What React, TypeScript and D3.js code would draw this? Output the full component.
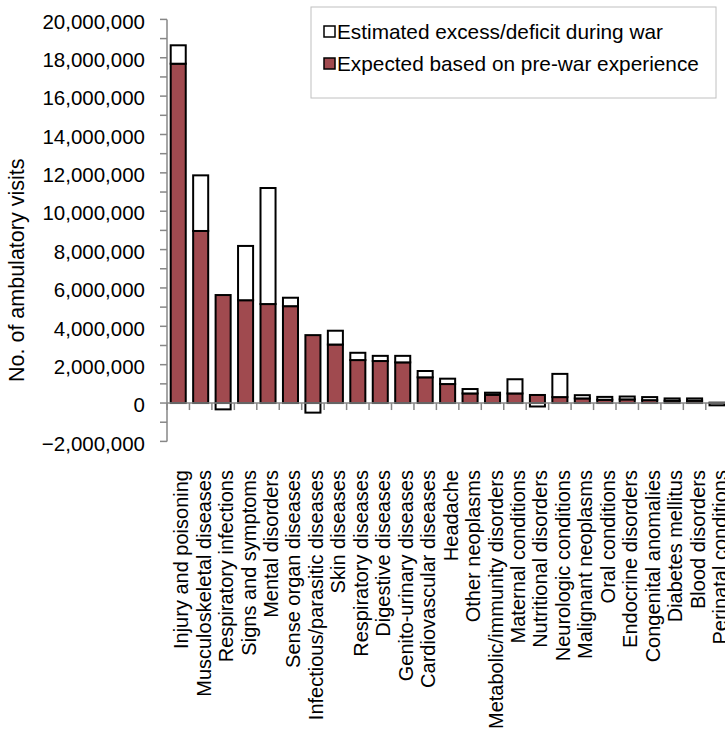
import React from "react";
import * as d3 from "d3";

// Ambulatory visits by cause: expected level from pre-war years and the war-time excess/deficit
const categories = [
  "Injury and poisoning",
  "Musculoskeletal diseases",
  "Respiratory infections",
  "Signs and symptoms",
  "Mental disorders",
  "Sense organ diseases",
  "Infectious/parasitic diseases",
  "Skin diseases",
  "Respiratory diseases",
  "Digestive diseases",
  "Genito-urinary diseases",
  "Cardiovascular diseases",
  "Headache",
  "Other neoplasms",
  "Metabolic/immunity disorders",
  "Maternal conditions",
  "Nutritional disorders",
  "Neurologic conditions",
  "Malignant neoplasms",
  "Oral conditions",
  "Endocrine disorders",
  "Congenital anomalies",
  "Diabetes mellitus",
  "Blood disorders",
  "Perinatal conditions",
];

const expectedVisits = [
  17690000, 8970000, 5630000, 5360000, 5160000, 5050000, 3540000, 3050000,
  2240000, 2190000, 2120000, 1340000, 990000, 500000, 430000, 500000, 420000,
  310000, 240000, 170000, 190000, 150000, 120000, 120000, 20000,
];

const excessVisits = [
  960000, 2900000, -330000, 2830000, 6050000, 440000, -500000, 720000, 380000,
  270000, 340000, 330000, 280000, 230000, 110000, 740000, -180000, 1210000,
  170000, 150000, 150000, 160000, 120000, 120000, -120000,
];

const yTicks = d3.range(-2000000, 20000001, 2000000);
const yMinorTicks = d3.range(-2000000, 20000001, 1000000);

const legendItems = [
  { label: "Estimated excess/deficit during war", fill: "#ffffff" },
  { label: "Expected based on pre-war experience", fill: "#a04a4f" },
];

const W = 725;
const H = 730;
const left = 167;
const step = 22.45;
const right = left + step * categories.length;
const top = 19.4;
const bottom = 441.4;
const font = "'Liberation Sans', Arial, sans-serif";
const axisColor = "#878787";
const barFill = "#a04a4f";

export default function App() {
  const x = d3
    .scaleBand<string>()
    .domain(categories)
    .range([left, right])
    .paddingInner(0.33)
    .paddingOuter(0.165);
  const y = d3.scaleLinear().domain([-2000000, 20000000]).range([bottom, top]);
  const fmt = d3.format(",");
  const y0 = y(0);

  const bars = categories.map((c, i) => {
    const e = expectedVisits[i];
    const d = excessVisits[i];
    const x0 = x(c) as number;
    const w = x.bandwidth();
    const expRect = { x: x0, y: y(Math.max(e, 0)), w, h: Math.abs(y(e) - y0) };
    let exRect;
    if (d >= 0) {
      exRect = { x: x0, y: y(e + d), w, h: y(e) - y(e + d) };
    } else {
      exRect = { x: x0, y: y0, w, h: y(d) - y0 };
    }
    return { c, expRect, exRect };
  });

  const boundaries = d3.range(0, categories.length + 1).map((k) => left + k * step);

  return (
    <svg
      width={W}
      height={H}
      style={{ position: "absolute", left: 0, top: 0, background: "#fff" }}
      fontFamily={font}
    >
      {/* y axis */}
      <line x1={left} x2={left} y1={top} y2={bottom} stroke={axisColor} strokeWidth={1.5} />
      {yMinorTicks.map((t) => (
        <line key={"m" + t} x1={left - 7} x2={left} y1={y(t)} y2={y(t)} stroke={axisColor} strokeWidth={1.5} />
      ))}
      {yTicks.map((t) => (
        <text
          key={"t" + t}
          x={145}
          y={y(t)}
          dy="0.45em"
          textAnchor="end"
          fontSize={20.5}
          fill="#000"
        >
          {fmt(t)}
        </text>
      ))}
      <text
        transform={`translate(24,382) rotate(-90)`}
        textAnchor="start"
        fontSize={21.5}
        fill="#000"
      >
        No. of ambulatory visits
      </text>

      {/* bars */}
      {bars.map((b) => (
        <g key={b.c}>
          <rect
            x={b.expRect.x}
            y={b.expRect.y}
            width={b.expRect.w}
            height={b.expRect.h}
            fill={barFill}
            stroke="#000"
            strokeWidth={2}
          />
          <rect
            x={b.exRect.x}
            y={b.exRect.y}
            width={b.exRect.w}
            height={b.exRect.h}
            fill="#fff"
            stroke="#000"
            strokeWidth={2}
          />
        </g>
      ))}

      {/* category axis at zero */}
      <line x1={left} x2={right} y1={y0} y2={y0} stroke={axisColor} strokeWidth={1.5} />
      {boundaries.map((bx, k) => (
        <line key={"b" + k} x1={bx} x2={bx} y1={y0} y2={y0 + 7} stroke={axisColor} strokeWidth={1.5} />
      ))}
      {categories.map((c) => {
        const cx = (x(c) as number) + x.bandwidth() / 2 + 10;
        return (
          <text
            key={"l" + c}
            transform={`translate(${cx},470) rotate(-90)`}
            textAnchor="end"
            fontSize={20}
            fill="#000"
          >
            {c}
          </text>
        );
      })}

      {/* legend */}
      <rect x={311} y={7} width={405} height={91} fill="#fff" stroke="#c0c0c0" strokeWidth={1} />
      {legendItems.map((it, i) => (
        <g key={it.label} transform={`translate(0,${i * 32})`}>
          <rect x={324} y={26} width={11} height={11} fill={it.fill} stroke="#000" strokeWidth={1.5} />
          <text x={337} y={31.5} dy="0.36em" fontSize={20.8} fill="#000">
            {it.label}
          </text>
        </g>
      ))}
    </svg>
  );
}
